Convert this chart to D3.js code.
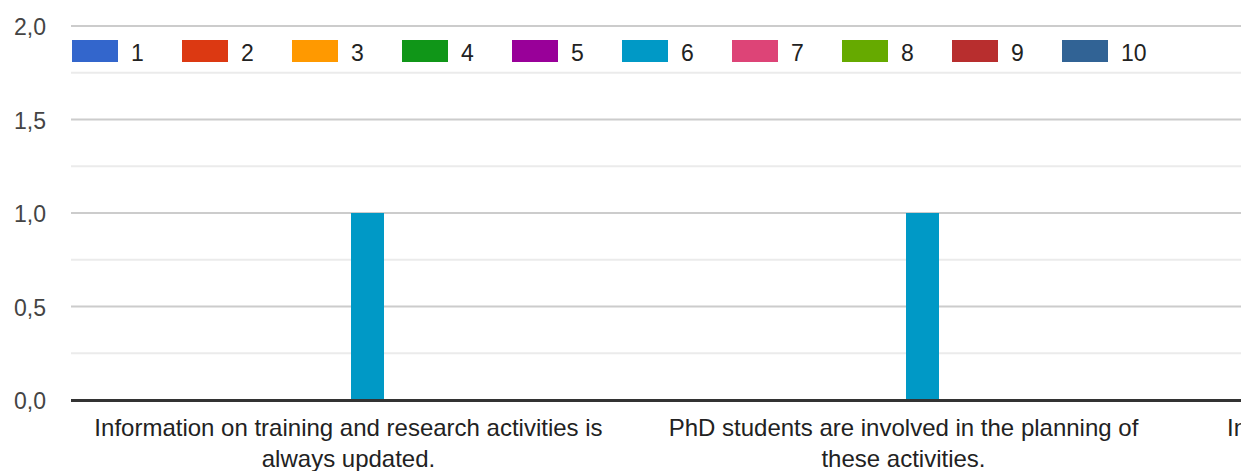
<!DOCTYPE html>
<html>
<head>
<meta charset="utf-8">
<script src="https://cdn.jsdelivr.net/npm/d3@7"></script>
<style>
  html, body { margin: 0; padding: 0; background: #fff; overflow: hidden; }
  svg { display: block; font-family: Arial, "Liberation Sans", sans-serif; }
</style>
</head>
<body>
<svg id="chart" width="1241" height="471"></svg>
<script>
// ---- data ----
const categories = [
  "Information on training and research activities is always updated.",
  "PhD students are involved in the planning of these activities.",
  "Information on training activities is available online."
];
const seriesNames = ["1", "2", "3", "4", "5", "6", "7", "8", "9", "10"];
const seriesColors = ["#3366cc", "#dc3912", "#ff9900", "#109618", "#990099",
                      "#0099c6", "#dd4477", "#66aa00", "#b82e2e", "#316395"];
// values[category][series]
const values = [
  [0, 0, 0, 0, 0, 1, 0, 0, 0, 0],
  [0, 0, 0, 0, 0, 1, 0, 0, 0, 0],
  [0, 0, 0, 0, 0, 0, 0, 0, 0, 0]
];
const yTicks = [0, 0.5, 1, 1.5, 2];
const yMinorTicks = [0.25, 0.75, 1.25, 1.75];
const yTickLabels = ["0,0", "0,5", "1,0", "1,5", "2,0"];

// ---- layout ----
const svg = d3.select("#chart");
const plotLeft = 71, plotTop = 26, plotBottom = 400;
const catStep = 555;
const groupWidth = 380;

const x0 = d3.scaleBand().domain(categories)
  .range([plotLeft, plotLeft + catStep * categories.length]).padding(0);
const x1 = d3.scaleBand().domain(seriesNames)
  .range([0, groupWidth]).paddingInner(5 / 38).paddingOuter(2.5 / 38);
const y = d3.scaleLinear().domain([0, 2]).range([plotBottom, plotTop]);

const plotRight = 1241;

// minor gridlines
svg.append("g").selectAll("line").data(yMinorTicks).join("line")
  .attr("x1", plotLeft).attr("x2", plotRight)
  .attr("y1", d => y(d)).attr("y2", d => y(d))
  .attr("stroke", "#ebebeb").attr("stroke-width", 2);

// major gridlines
svg.append("g").selectAll("line").data(yTicks.filter(d => d !== 0)).join("line")
  .attr("x1", plotLeft).attr("x2", plotRight)
  .attr("y1", d => y(d)).attr("y2", d => y(d))
  .attr("stroke", "#cccccc").attr("stroke-width", 2);

// y labels
svg.append("g").selectAll("text").data(yTicks).join("text")
  .attr("x", 46).attr("y", d => y(d) + 9)
  .attr("text-anchor", "end")
  .attr("font-size", 23).attr("fill", "#444")
  .text((d, i) => yTickLabels[i]);

// bars
const groups = svg.append("g").selectAll("g").data(categories).join("g")
  .attr("transform", c => `translate(${x0(c) + x0.bandwidth() / 2 - groupWidth / 2},0)`);
groups.selectAll("rect")
  .data((c, ci) => values[ci].map((v, si) => ({ s: seriesNames[si], v, color: seriesColors[si] })).filter(d => d.v > 0))
  .join("rect")
  .attr("x", d => x1(d.s))
  .attr("width", x1.bandwidth())
  .attr("y", d => y(d.v))
  .attr("height", d => y(0) - y(d.v))
  .attr("fill", d => d.color);

// baseline
svg.append("line")
  .attr("x1", plotLeft).attr("x2", plotRight)
  .attr("y1", y(0) + 0.5).attr("y2", y(0) + 0.5)
  .attr("stroke", "#333").attr("stroke-width", 3);

// category labels with wrapping
const maxW = 520;
const labels = svg.append("g").selectAll("text").data(categories).join("text")
  .attr("text-anchor", "middle")
  .attr("font-size", 24).attr("fill", "#222")
  .attr("x", c => x0(c) + x0.bandwidth() / 2)
  .attr("y", 436);
labels.each(function (c) {
  const t = d3.select(this);
  const words = c.split(" ");
  let line = [];
  const cx = +t.attr("x");
  let tspan = t.append("tspan").attr("x", cx).attr("dy", 0);
  for (const w of words) {
    line.push(w);
    tspan.text(line.join(" "));
    if (tspan.node().getComputedTextLength() > maxW && line.length > 1) {
      line.pop();
      tspan.text(line.join(" "));
      line = [w];
      tspan = t.append("tspan").attr("x", cx).attr("dy", 31).text(w);
    }
  }
});

// legend
const legend = svg.append("g").selectAll("g").data(seriesNames).join("g")
  .attr("transform", (d, i) => `translate(${72 + i * 110},40)`);
legend.append("rect").attr("width", 46).attr("height", 22)
  .attr("fill", (d, i) => seriesColors[i]);
legend.append("text").attr("x", 59).attr("y", 21)
  .attr("font-size", 23).attr("fill", "#222").text(d => d);
</script>
</body>
</html>
